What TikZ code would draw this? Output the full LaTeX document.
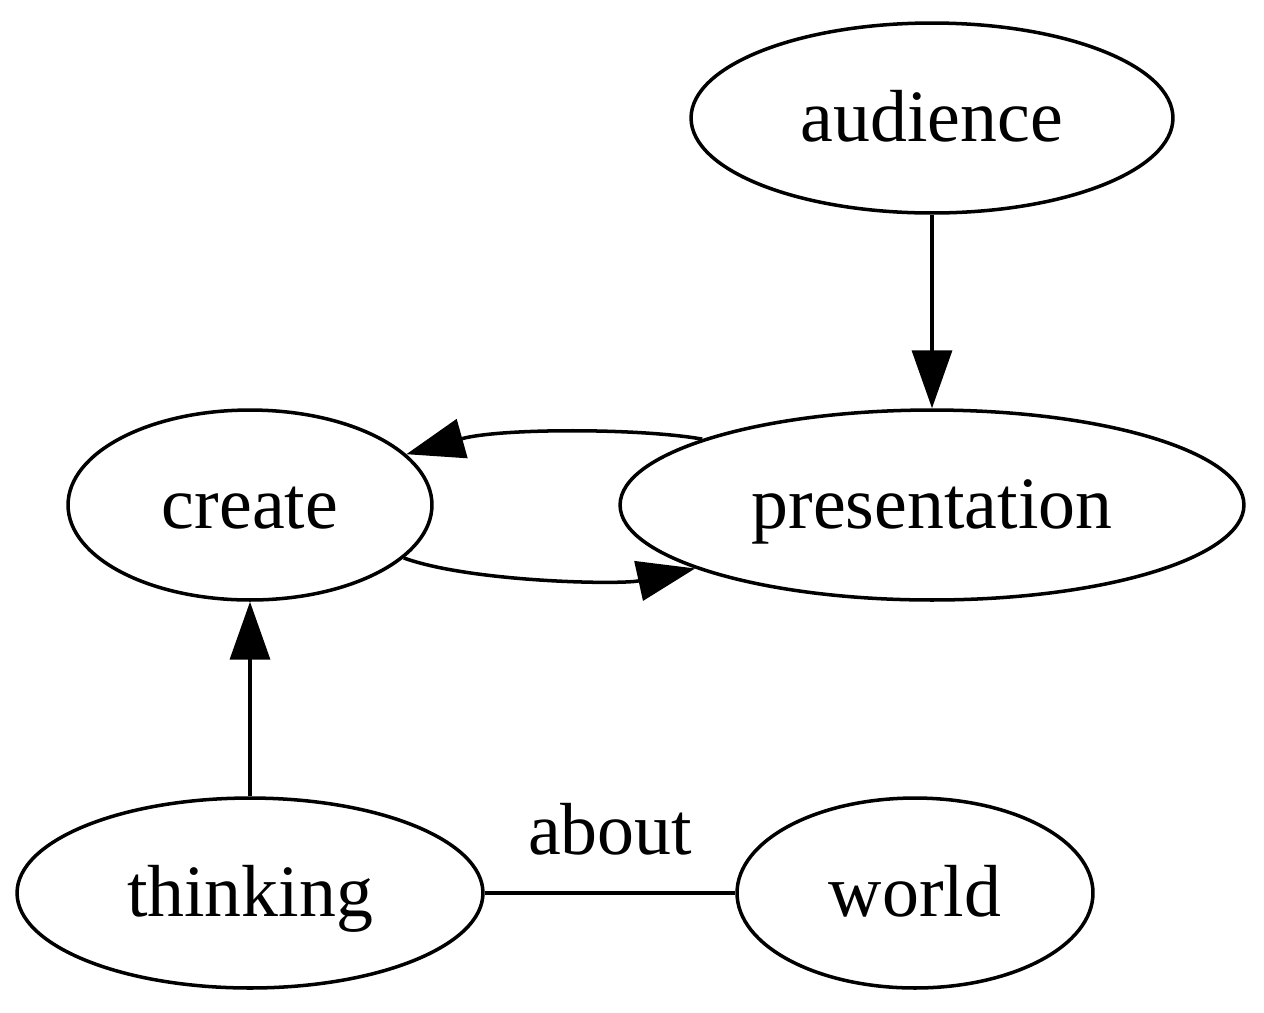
\documentclass[tikz,border=0pt]{standalone}
\usepackage{fontspec}
\setmainfont{Liberation Serif}
\usetikzlibrary{shapes.geometric, arrows.meta}

\begin{document}
\begin{tikzpicture}[x=0.02cm, y=-0.02cm, line width=2pt,
	state/.style={ellipse, draw, inner sep=0pt, minimum height=3.8cm, text depth=0.2cm, text height=1.12cm, font=\fontsize{42}{50}\selectfont},
	lbl/.style={inner sep=0pt, font=\fontsize{42}{50}\selectfont},
	edge/.style={-{Triangle[length=1.16cm, width=0.8cm]}}]
\useasboundingbox (0,0) rectangle (1264,1012);
\node[state, minimum width=9.64cm] (audience) at (932,118) {audience};
\node[state, minimum width=7.28cm] (create) at (250,505) {create};
\node[state, minimum width=12.48cm] (presentation) at (932,505) {presentation};
\node[state, minimum width=9.32cm] (thinking) at (250,893) {thinking};
\node[state, minimum width=7.12cm] (world) at (915,893) {world};

\draw[edge] (audience) -- (presentation);
\draw[edge] (presentation.164) .. controls (640,428) and (500,428) .. (create.18);
\draw[edge] (create.341) .. controls (470,582) and (620,585) .. (presentation.195);
\draw[edge] (thinking) -- (create);
\draw (thinking) -- node[lbl, above=0.72cm] {about} (world);
\end{tikzpicture}
\end{document}
